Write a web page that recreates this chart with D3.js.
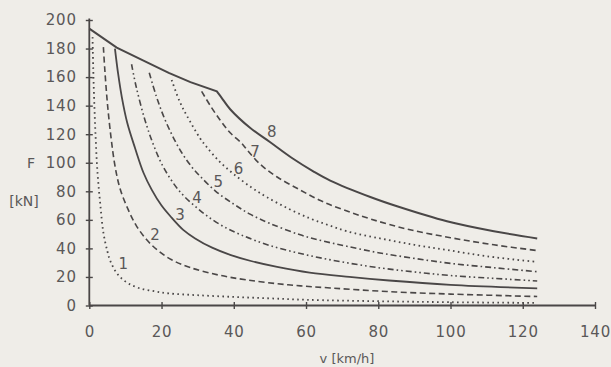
<!DOCTYPE html>
<html><head><meta charset="utf-8">
<script src="https://cdn.jsdelivr.net/npm/d3@7"></script>
<style>
html,body{margin:0;padding:0;background:#efede8;}
svg{display:block;}
text{font-family:"DejaVu Sans",sans-serif;fill:#5a5858;}
</style></head>
<body>
<svg id="chart" width="611" height="367"></svg>
<script>
// ---- data ----
const xTicks = [0, 20, 40, 60, 80, 100, 120, 140];
const yTicks = [0, 20, 40, 60, 80, 100, 120, 140, 160, 180, 200];
const curveNames = ["1","2","3","4","5","6","7","8"];
const v1 = [0.9,1.1,1.4,1.8,2.3,3,3.9,5,5.7,7,8.5,10.8,14,18,21.9,30,40,50,60,80,100,124];
const f1 = [188,165,140,115,92,72,51,38,32,25,20,15.5,12,10,8.5,7.2,6,5,4,3,2.3,1.8];
const v2 = [3.9,4.3,5,6,7.1,8.5,10.8,13,15.9,19,22.8,28,35.7,43.6,55,66.7,82.4,100,124];
const f2 = [181,165,142,118,98,82,67,56,46,38.5,32,26.5,21.4,17.9,14.5,12.3,9.8,8,6.3];
const v3 = [7.1,8,9,10.5,12.7,15,17.3,20,22.8,26,29.3,34,39,45,52,61,72,83,100,124];
const f3 = [180,162,146,128,110,93,81,70,61.5,53,47,40.5,35.5,31,27,23,20,17.5,14.5,12];
const v4 = [11.7,13,15.4,17.7,20.5,25,30.7,36,42,50,60,70,80,90,100,112,124];
const f4 = [169,153,130,113,97,80,66.5,57,49.5,42,35.5,30.5,26.5,23.5,21,19,17.2];
const v5 = [16.6,18.5,20.5,23,25.6,28.4,30.7,35,40,44.5,50,58.4,65,71.3,80,90,100,112,124];
const f5 = [163,147,133,119,107,97,90.5,80,71,64,57.5,49.5,45,41.5,37,33,29.5,26.5,23.7];
const v6 = [22.8,25,27,30.7,32.5,36,40,45,49.1,55,61.1,66,71.3,80.5,90,99,110,124];
const f6 = [158,143,133,117,111,101,92,82.5,76,68,61,56.5,52,47,42.5,38.9,34.5,30.5];
const v7 = [31.1,33.5,36.2,39,42.2,44,47.3,52,58.4,64,70.4,78,88,100,112,124];
const f7 = [150,140,130,121,113.6,108,99,90,80.9,73.5,67,60.5,53.5,47.5,42.5,38.5];
const v8 = [0,7.6,15,22,28,35.3,36.5,39,44.5,50,56,62,66.7,77.8,85.2,99,112,124];
const f8 = [194,180.6,171.5,163,156.5,150,146,137.5,124.5,114.5,103.5,94,87.5,76,69.5,59,52,47];
// label anchor positions (v, F) for curve numbers
const labV = [9.4, 18.2, 25.1, 29.8, 35.7, 41.3, 45.9, 50.5];
const labF = [29.6, 49.4, 63.4, 75.5, 86.6, 96.2, 107.6, 121.7];

const allV = [v1,v2,v3,v4,v5,v6,v7,v8];
const allF = [f1,f2,f3,f4,f5,f6,f7,f8];
const dashes = ["1.6,3.4", "6,3.5", null, "6,3,1.6,3,1.6,3", "6,3,1.6,3", "1.6,3.4", "6,3.5", null];
const widths = [1.8, 1.6, 1.8, 1.6, 1.6, 1.8, 1.6, 2];

// ---- drawing ----
const svg = d3.select("#chart");
const x = d3.scaleLinear().domain([0, 140]).range([89.3, 595]);
const y = d3.scaleLinear().domain([0, 200]).range([305.5, 20]);
const ink = "#4a4747";

// axes
const gy = svg.append("g").attr("transform", `translate(${x(0)},0)`)
  .call(d3.axisLeft(y).tickValues(yTicks).tickSize(0).tickPadding(12.5));
gy.select(".domain").attr("stroke", ink).attr("stroke-width", 1.8).attr("d", `M0,${y(200)-1.5}V${y(0)}`);
gy.selectAll(".tick line").attr("stroke", ink).attr("stroke-width", 1.4).attr("x1", -3.5).attr("x2", 3.5);
gy.selectAll(".tick text").attr("font-size", 15).attr("letter-spacing", 0.8).attr("fill", "#5a5858")
  .attr("font-family", "DejaVu Sans");

const gx = svg.append("g").attr("transform", `translate(0,${y(0)})`)
  .call(d3.axisBottom(x).tickValues(xTicks).tickSize(0));
gx.select(".domain").attr("stroke", ink).attr("stroke-width", 1.8).attr("d", `M${x(0)},0H${x(140)}`);
gx.selectAll(".tick line").attr("stroke", ink).attr("stroke-width", 1.4).attr("y1", -3.5).attr("y2", 3.5);
gx.selectAll(".tick text").attr("font-size", 15).attr("letter-spacing", 0.8).attr("fill", "#5a5858")
  .attr("font-family", "DejaVu Sans").attr("y", 26.5).attr("dy", "0.35em");

// curves
const line = d3.line().x(d => x(d[0])).y(d => y(d[1])).curve(d3.curveCatmullRom.alpha(0.5));
const envLine = d3.line().x(d => x(d[0])).y(d => y(d[1])).curve(d3.curveLinear);
allV.forEach((vs, i) => {
  const pts = vs.map((v, j) => [v, allF[i][j]]);
  let dStr;
  if (i === 7) {
    // envelope: straight segments up to the corner, smooth hyperbola after it
    const k = vs.indexOf(35.3);
    dStr = envLine(pts.slice(0, k + 1)) + line(pts.slice(k)).replace(/^M/, "L");
  } else {
    dStr = line(pts);
  }
  svg.append("path").attr("d", dStr).attr("fill", "none")
    .attr("stroke", ink).attr("stroke-width", widths[i])
    .attr("stroke-dasharray", dashes[i]).attr("stroke-linecap", "butt");
});

// curve labels
curveNames.forEach((n, i) => {
  svg.append("text").attr("x", x(labV[i])).attr("y", y(labF[i])).attr("dy", "0.36em")
    .attr("text-anchor", "middle").attr("font-size", 15).text(n);
});

// axis titles
svg.append("text").attr("x", 31).attr("y", 162.5).attr("dy", "0.36em").attr("text-anchor", "middle")
  .attr("font-size", 14).text("F");
svg.append("text").attr("x", 24).attr("y", 201).attr("dy", "0.36em").attr("text-anchor", "middle")
  .attr("font-size", 14).text("[kN]");
svg.append("text").attr("x", 347).attr("y", 358).attr("dy", "0.36em").attr("text-anchor", "middle")
  .attr("font-size", 13).text("v [km/h]");
</script>
</body></html>
